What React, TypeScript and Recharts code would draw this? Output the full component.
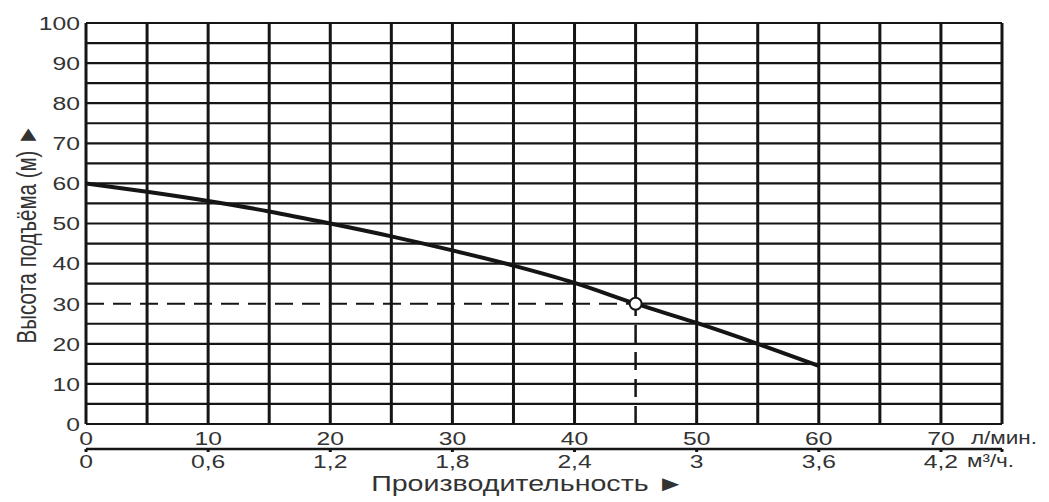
import React from 'react';
import { LineChart, Line, XAxis, YAxis, ReferenceLine, ReferenceDot } from 'recharts';

const flow = [0, 5, 10, 15, 20, 25, 30, 35, 40, 45, 50, 55, 60];
const head = [60, 57.9, 55.6, 53.0, 50.0, 46.8, 43.3, 39.5, 35.2, 30, 25.2, 20, 14.5];

const flowTicks = [0, 10, 20, 30, 40, 50, 60, 70];
const flowTicksB = [0, 10, 20, 30, 40, 50, 60, 70, 75];
const m3hLabels = ['0', '0,6', '1,2', '1,8', '2,4', '3', '3,6', '4,2'];
const headTicks = [0, 10, 20, 30, 40, 50, 60, 70, 80, 90, 100];
const vGrid = [0, 5, 10, 15, 20, 25, 30, 35, 40, 45, 50, 55, 60, 65, 70, 75];
const hGrid = [0, 5, 10, 15, 20, 25, 30, 35, 40, 45, 50, 55, 60, 65, 70, 75, 80, 85, 90, 95, 100];
const opPoint = { q: 45, h: 30 };
const X_MAX = 75;
const Y_MAX = 100;

const data = flow.map((q, i) => ({ q, h: head[i] }));

const INK = '#151515';
const TXT = '#333';
const FONT = 'Liberation Sans, Arial, sans-serif';
const SX = 1.3;

const YTick = (p: any) => {
  const { x, y, payload } = p;
  return (
    <text transform={`translate(${x},${y}) scale(${SX},1)`} textAnchor="end" dy="0.36em" fontSize={19} fontFamily={FONT} fill={TXT}>
      {payload.value}
    </text>
  );
};

const XTickA = (p: any) => {
  const { x, y, payload } = p;
  return (
    <g>
      <text transform={`translate(${x},${y + 14}) scale(${SX},1)`} textAnchor="middle" dy="0.36em" fontSize={19} fontFamily={FONT} fill={TXT}>
        {payload.value}
      </text>
      {payload.value === 70 && (
        <text transform={`translate(${x + 30},${y + 14}) scale(1.25,1)`} textAnchor="start" dy="0.36em" fontSize={18} fontFamily={FONT} fill={TXT}>
          л/мин.
        </text>
      )}
    </g>
  );
};

const XTickB = (p: any) => {
  const { x, y, payload } = p;
  if (payload.value === 75) return <g />;
  const label = m3hLabels[flowTicks.indexOf(payload.value)];
  return (
    <g>
      <text transform={`translate(${x},${y + 9}) scale(${SX},1)`} textAnchor="middle" dy="0.36em" fontSize={19} fontFamily={FONT} fill={TXT}>
        {label}
      </text>
      {payload.value === 70 && (
        <text transform={`translate(${x + 26},${y + 9}) scale(1.25,1)`} textAnchor="start" dy="0.36em" fontSize={18} fontFamily={FONT} fill={TXT}>
          м³/ч.
        </text>
      )}
    </g>
  );
};

export default function App() {
  return (
    <div style={{ width: 1040, height: 494, background: '#fff' }}>
      <LineChart width={1040} height={494} data={data} margin={{ top: 15, right: 46, left: 0, bottom: 0 }}>
        <XAxis xAxisId="a" dataKey="q" type="number" domain={[0, X_MAX]} ticks={flowTicks} interval={0}
          axisLine={false} tickLine={false} tickSize={0} tickMargin={0} height={25} tick={<XTickA />} />
        <XAxis xAxisId="b" dataKey="q" type="number" domain={[0, X_MAX]} ticks={flowTicksB} interval={0}
          axisLine={{ stroke: INK, strokeWidth: 2.5 }} tickLine={{ stroke: INK, strokeWidth: 3 }} tickSize={3} tickMargin={0} height={53}
          tick={<XTickB />}
          label={{
            content: () => (
              <text transform="translate(520,475) scale(1.3,1)" textAnchor="middle" dy="0.36em" fontSize={22} fontFamily={FONT} fill={TXT}>
                Производительность ►
              </text>
            ),
          }} />
        <YAxis type="number" domain={[0, Y_MAX]} ticks={headTicks} interval={0} width={78}
          axisLine={false} tickLine={false} tickSize={0} tickMargin={6} tick={<YTick />}
          label={{
            content: () => (
              <text transform="translate(18,226) rotate(-90) scale(0.76,1)" textAnchor="middle" dy="0.36em" fontSize={27} fontFamily={FONT} fill={TXT}>
                Высота подъёма (м) ►
              </text>
            ),
          }} />
        {hGrid.map((v) =>
          v === opPoint.h ? (
            <ReferenceLine key={'h' + v} xAxisId="a" segment={[{ x: opPoint.q, y: v }, { x: X_MAX, y: v }]} stroke={INK} strokeWidth={2.2} />
          ) : (
            <ReferenceLine key={'h' + v} xAxisId="a" y={v} stroke={INK} strokeWidth={2.2} />
          )
        )}
        {vGrid.map((v) =>
          v === opPoint.q ? (
            <ReferenceLine key={'v' + v} xAxisId="a" segment={[{ x: v, y: opPoint.h }, { x: v, y: Y_MAX }]} stroke={INK} strokeWidth={3} />
          ) : (
            <ReferenceLine key={'v' + v} xAxisId="a" x={v} stroke={INK} strokeWidth={3} />
          )
        )}
        <ReferenceLine xAxisId="a" segment={[{ x: 0, y: opPoint.h }, { x: opPoint.q, y: opPoint.h }]} stroke={INK} strokeWidth={2} strokeDasharray="18 9" />
        <ReferenceLine xAxisId="a" segment={[{ x: opPoint.q, y: 0 }, { x: opPoint.q, y: opPoint.h }]} stroke={INK} strokeWidth={2.5} strokeDasharray="18 9" />
        <Line xAxisId="a" type="monotone" dataKey="h" stroke={INK} strokeWidth={4} dot={false} isAnimationActive={false} />
        <ReferenceDot xAxisId="a" x={opPoint.q} y={opPoint.h} r={6} fill="#fff" stroke={INK} strokeWidth={2} />
      </LineChart>
    </div>
  );
}
